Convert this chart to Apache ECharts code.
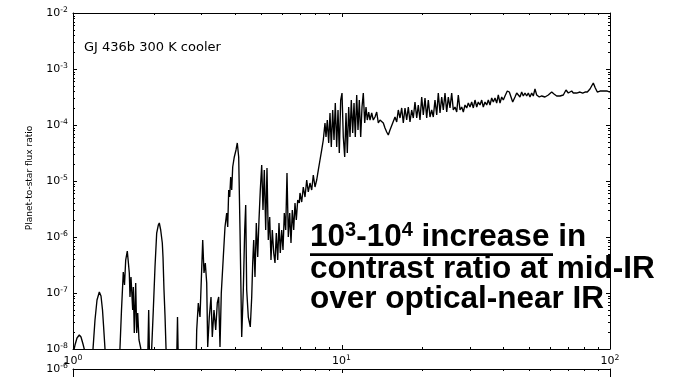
<!DOCTYPE html>
<html>
<head>
<meta charset="utf-8">
<script src="https://cdn.jsdelivr.net/npm/echarts@6/dist/echarts.min.js"></script>
<style>
  html, body { margin: 0; padding: 0; background: #fff; }
  #chart { width: 676px; height: 377px; }
</style>
</head>
<body>
<div id="chart"></div>
<script>
// GJ 436b emission spectrum, 300 K cooler model.
// log10 of wavelength (micron) and log10 of planet-to-star flux ratio.
const log10Wavelength = [
  0.0019,0.0074,0.0149,0.0235,0.0298,0.0372,0.0447,0.0559,0.0670,0.0745,
  0.0819,0.0894,0.0980,0.1043,0.1099,0.1136,0.1192,0.1266,0.1676,0.1750,
  0.1806,0.1873,0.1918,0.1963,0.2022,0.2060,0.2097,0.2123,0.2160,0.2223,
  0.2246,0.2283,0.2335,0.2372,0.2410,0.2458,0.2521,0.2570,0.2775,0.2819,
  0.2857,0.2931,0.2991,0.3054,0.3117,0.3177,0.3214,0.3266,0.3326,0.3352,
  0.3389,0.3426,0.3464,0.3520,0.3855,0.3892,0.3929,0.4581,0.4607,0.4667,
  0.4730,0.4831,0.4879,0.4927,0.4980,0.5017,0.5076,0.5140,0.5188,0.5251,
  0.5315,0.5374,0.5426,0.5475,0.5523,0.5598,0.5661,0.5724,0.5762,0.5799,
  0.5836,0.5873,0.5911,0.5948,0.6007,0.6071,0.6119,0.6171,0.6220,0.6283,
  0.6343,0.6395,0.6432,0.6469,0.6529,0.6603,0.6656,0.6693,0.6730,0.6778,
  0.6827,0.6879,0.6927,0.6976,0.7028,0.7076,0.7125,0.7177,0.7225,0.7274,
  0.7326,0.7374,0.7423,0.7475,0.7523,0.7572,0.7624,0.7672,0.7721,0.7773,
  0.7821,0.7870,0.7922,0.7970,0.8019,0.8071,0.8119,0.8168,0.8220,0.8268,
  0.8317,0.8369,0.8428,0.8454,0.8518,0.8577,0.8641,0.8704,0.8763,0.8827,
  0.8890,0.8950,0.9013,0.9076,0.9136,0.9199,0.9263,0.9322,0.9385,0.9423,
  0.9471,0.9523,0.9572,0.9620,0.9672,0.9721,0.9769,0.9821,0.9870,0.9918,
  0.9970,1.0019,1.0067,1.0119,1.0168,1.0216,1.0268,1.0317,1.0365,1.0417,
  1.0466,1.0514,1.0566,1.0615,1.0663,1.0715,1.0764,1.0812,1.0864,1.0913,
  1.0961,1.1013,1.1062,1.1125,1.1184,1.1248,1.1311,1.1371,1.1434,1.1497,
  1.1557,1.1620,1.1683,1.1743,1.1806,1.1907,1.1993,1.2056,1.2115,1.2179,
  1.2242,1.2302,1.2365,1.2428,1.2488,1.2551,1.2614,1.2674,1.2737,1.2801,
  1.2860,1.2924,1.2987,1.3047,1.3110,1.3173,1.3233,1.3296,1.3359,1.3419,
  1.3482,1.3546,1.3605,1.3669,1.3732,1.3792,1.3855,1.3918,1.3978,1.4041,
  1.4104,1.4164,1.4227,1.4291,1.4350,1.4414,1.4477,1.4537,1.4600,1.4663,
  1.4723,1.4786,1.4849,1.4909,1.4972,1.5036,1.5095,1.5158,1.5222,1.5281,
  1.5345,1.5408,1.5468,1.5531,1.5594,1.5654,1.5717,1.5780,1.5840,1.5903,
  1.5967,1.6026,1.6089,1.6175,1.6250,1.6313,1.6376,1.6462,1.6525,1.6585,
  1.6648,1.6711,1.6771,1.6834,1.6897,1.6957,1.7020,1.7083,1.7143,1.7206,
  1.7270,1.7367,1.7456,1.7579,1.7702,1.7829,1.7914,1.8015,1.8138,1.8261,
  1.8361,1.8447,1.8510,1.8573,1.8633,1.8696,1.8759,1.8819,1.8883,1.8983,
  1.9069,1.9155,1.9255,1.9378,1.9453,1.9527,1.9628,1.9728,1.9814,1.9899,2.0000
];
const log10FluxRatio = [
  -8.054,-7.929,-7.804,-7.750,-7.786,-7.911,-8.054,-8.554,-8.554,-8.000,
  -7.482,-7.125,-6.982,-7.054,-7.304,-7.571,-8.000,-8.554,-8.554,-7.982,
  -7.304,-6.625,-6.857,-6.411,-6.250,-6.446,-6.643,-7.071,-6.714,-7.304,
  -6.893,-7.714,-6.821,-7.714,-7.357,-7.839,-7.982,-8.375,-8.375,-7.304,
  -8.375,-7.982,-7.304,-6.536,-5.929,-5.786,-5.750,-5.875,-6.107,-6.357,
  -6.946,-7.393,-7.982,-8.375,-8.375,-7.429,-8.375,-8.375,-7.661,-7.179,
  -7.429,-6.054,-6.643,-6.464,-6.821,-7.964,-7.429,-7.071,-7.786,-7.304,
  -7.661,-7.179,-7.071,-7.964,-7.000,-6.357,-5.821,-5.571,-5.821,-5.161,
  -5.286,-4.929,-5.161,-4.750,-4.571,-4.446,-4.321,-4.571,-5.875,-7.786,
  -6.946,-5.875,-5.429,-6.946,-7.429,-7.607,-7.071,-6.464,-6.054,-6.714,
  -5.750,-6.357,-5.696,-5.161,-4.714,-5.518,-4.804,-5.875,-4.768,-6.054,
  -5.643,-6.411,-5.875,-6.286,-6.464,-5.929,-6.411,-5.750,-6.286,-5.875,
  -6.232,-5.571,-5.875,-4.857,-6.000,-5.571,-6.107,-5.518,-5.875,-5.393,
  -5.696,-5.339,-5.393,-5.214,-5.375,-5.107,-5.286,-4.982,-5.196,-5.036,
  -5.161,-4.893,-5.107,-4.982,-4.804,-4.625,-4.446,-4.268,-3.964,-4.214,
  -3.911,-4.321,-3.786,-4.393,-3.732,-4.268,-3.607,-4.393,-3.732,-4.500,
  -3.554,-3.429,-4.214,-4.571,-3.786,-4.500,-3.679,-4.214,-3.554,-4.143,
  -3.607,-4.214,-3.464,-4.089,-3.554,-4.214,-3.679,-3.429,-3.964,-3.679,
  -3.911,-3.768,-3.911,-3.786,-3.911,-3.857,-3.768,-3.964,-3.911,-3.946,
  -3.964,-4.054,-4.125,-4.179,-4.089,-3.964,-3.857,-3.946,-3.732,-3.875,
  -3.696,-3.964,-3.696,-3.911,-3.679,-3.946,-3.732,-3.875,-3.589,-3.875,
  -3.643,-3.911,-3.500,-3.821,-3.518,-3.875,-3.554,-3.857,-3.732,-3.857,
  -3.554,-3.821,-3.429,-3.786,-3.500,-3.732,-3.429,-3.768,-3.500,-3.696,
  -3.429,-3.732,-3.679,-3.768,-3.464,-3.732,-3.679,-3.768,-3.643,-3.696,
  -3.607,-3.679,-3.589,-3.696,-3.554,-3.679,-3.589,-3.643,-3.554,-3.679,
  -3.589,-3.643,-3.554,-3.643,-3.518,-3.589,-3.518,-3.607,-3.464,-3.607,
  -3.500,-3.554,-3.482,-3.393,-3.411,-3.500,-3.589,-3.500,-3.429,-3.464,
  -3.500,-3.411,-3.482,-3.429,-3.482,-3.429,-3.500,-3.429,-3.482,-3.357,
  -3.464,-3.500,-3.482,-3.500,-3.464,-3.411,-3.446,-3.482,-3.482,-3.464,
  -3.375,-3.429,-3.446,-3.393,-3.429,-3.411,-3.429,-3.411,-3.411,-3.429,
  -3.411,-3.411,-3.357,-3.250,-3.339,-3.411,-3.393,-3.393,-3.393,-3.393,-3.411
];

// Axis decades (major ticks) and the minor tick multipliers between them
const xDecades = [1, 10, 100];
const yDecades = [1e-8, 1e-7, 1e-6, 1e-5, 1e-4, 1e-3, 1e-2];
const minorMultipliers = [2, 3, 4, 5, 6, 7, 8, 9];

const titleText = 'GJ 436b 300 K cooler';
const yAxisTitle = 'Planet-to-star flux ratio';

const spectrum = log10Wavelength.map((lw, i) => [Math.pow(10, lw), Math.pow(10, log10FluxRatio[i])]);

function buildTicks(decades) {
  const out = [];
  decades.forEach((d, i) => {
    out.push({ v: d, len: 4 });
    if (i < decades.length - 1) minorMultipliers.forEach(m => out.push({ v: m * d, len: 2 }));
  });
  return out;
}

const tickFont = 'DejaVu Sans';
const powerRich = {
  b: { fontFamily: tickFont, fontSize: 11, lineHeight: 14, color: '#000' },
  s: { fontFamily: tickFont, fontSize: 7.7, lineHeight: 8, color: '#000', verticalAlign: 'top' }
};
const powerLabel = v => '{b|10}{s|' + Math.round(Math.log10(v)) + '}';

function logX(gridIndex, position, showLabel) {
  return {
    type: 'log', logBase: 10, gridIndex, position, min: 1, max: 100,
    axisLine: { show: true, onZero: false, lineStyle: { color: '#000', width: 1 } },
    axisTick: { show: false }, minorTick: { show: false },
    splitLine: { show: false },
    axisLabel: { show: showLabel, margin: 5, formatter: powerLabel, rich: powerRich, showMinLabel: true, showMaxLabel: true }
  };
}
function logY(gridIndex, position, min, max, showLabel) {
  return {
    type: 'log', logBase: 10, gridIndex, position, min, max,
    axisLine: { show: true, onZero: false, lineStyle: { color: '#000', width: 1 } },
    axisTick: { show: false }, minorTick: { show: false },
    splitLine: { show: false },
    axisLabel: { show: showLabel, margin: 5, formatter: powerLabel, rich: powerRich, showMinLabel: true, showMaxLabel: true }
  };
}

// Inward-pointing ticks on the requested sides of a grid
function tickSeries(xIdx, yIdx, axis, sides, ticks, refX, refY) {
  return {
    type: 'custom', xAxisIndex: xIdx, yAxisIndex: yIdx, silent: true, z: 6,
    data: ticks.map(t => axis === 'x' ? [t.v, refY, t.len] : [refX, t.v, t.len]),
    encode: { x: 0, y: 1 },
    renderItem(params, api) {
      const cs = params.coordSys;
      const len = api.value(2);
      const pt = api.coord([api.value(0), api.value(1)]);
      const segs = [];
      if (axis === 'x') {
        const p = Math.round(pt[0]) + 0.5;
        if (sides.includes('bottom')) segs.push([p, cs.y + cs.height, p, cs.y + cs.height - len]);
        if (sides.includes('top')) segs.push([p, cs.y, p, cs.y + len]);
      } else {
        const p = Math.round(pt[1]) + 0.5;
        if (sides.includes('left')) segs.push([cs.x, p, cs.x + len, p]);
        if (sides.includes('right')) segs.push([cs.x + cs.width, p, cs.x + cs.width - len, p]);
      }
      return {
        type: 'group',
        children: segs.map(s => ({
          type: 'line',
          shape: { x1: s[0], y1: s[1], x2: s[2], y2: s[3] },
          style: { stroke: '#000', lineWidth: 1 }
        }))
      };
    }
  };
}

const calloutFont = 'Liberation Sans';
const calloutSize = 31.5;

const chart = echarts.init(document.getElementById('chart'), null, { renderer: 'canvas' });
chart.setOption({
  animation: false,
  backgroundColor: '#fff',
  grid: [
    { left: 73, top: 13, width: 537, height: 336, outerBoundsMode: 'none', containLabel: false },
    { left: 73, top: 369, width: 537, height: 300, outerBoundsMode: 'none', containLabel: false }
  ],
  xAxis: [
    logX(0, 'bottom', true),
    logX(0, 'top', false),
    logX(1, 'top', false)
  ],
  yAxis: [
    logY(0, 'left', 1e-8, 1e-2, true),
    logY(0, 'right', 1e-8, 1e-2, false),
    logY(1, 'left', 1e-12, 1e-6, true),
    logY(1, 'right', 1e-12, 1e-6, false)
  ],
  series: [
    {
      type: 'line', xAxisIndex: 0, yAxisIndex: 0, data: spectrum,
      showSymbol: false, symbol: 'none', clip: true, z: 3,
      lineStyle: { color: '#000', width: 1.35 }
    },
    tickSeries(0, 0, 'x', ['bottom', 'top'], buildTicks(xDecades), 3, 1e-5),
    tickSeries(0, 0, 'y', ['left', 'right'], buildTicks(yDecades), 3, 1e-5),
    tickSeries(2, 2, 'x', ['top'], buildTicks(xDecades), 3, 1e-9)
  ],
  graphic: [
    {
      type: 'text', x: 84, y: 39.8, z: 100,
      style: { text: titleText, fontFamily: tickFont, fontSize: 13, lineHeight: 16, fill: '#000', verticalAlign: 'top' }
    },
    {
      type: 'text', x: 29.5, y: 178, rotation: Math.PI / 2, z: 100,
      style: { text: yAxisTitle, fontFamily: tickFont, fontSize: 9, fill: '#000', align: 'center', verticalAlign: 'middle' }
    },
    {
      type: 'text', x: 310, y: 220.8, z: 100,
      style: {
        text: '{n|10}{s|3}{n|-10}{s|4}{n| increase in}',
        verticalAlign: 'top',
        rich: {
          n: { fontFamily: calloutFont, fontWeight: 'bold', fontSize: calloutSize, lineHeight: 34, fill: '#000' },
          s: { fontFamily: calloutFont, fontWeight: 'bold', fontSize: 20, lineHeight: 20, fill: '#000', verticalAlign: 'top' }
        }
      }
    },
    {
      type: 'line', z: 100,
      shape: { x1: 310, y1: 254.7, x2: 553, y2: 254.7 },
      style: { stroke: '#000', lineWidth: 2.8 }
    },
    {
      type: 'text', x: 310, y: 252.8, z: 100,
      style: { text: 'contrast ratio at mid-IR', fontFamily: calloutFont, fontWeight: 'bold', fontSize: calloutSize, lineHeight: 34, fill: '#000', verticalAlign: 'top' }
    },
    {
      type: 'text', x: 310, y: 282.1, z: 100,
      style: { text: 'over optical-near IR', fontFamily: calloutFont, fontWeight: 'bold', fontSize: calloutSize, lineHeight: 34, fill: '#000', verticalAlign: 'top' }
    }
  ]
});
</script>
</body>
</html>
